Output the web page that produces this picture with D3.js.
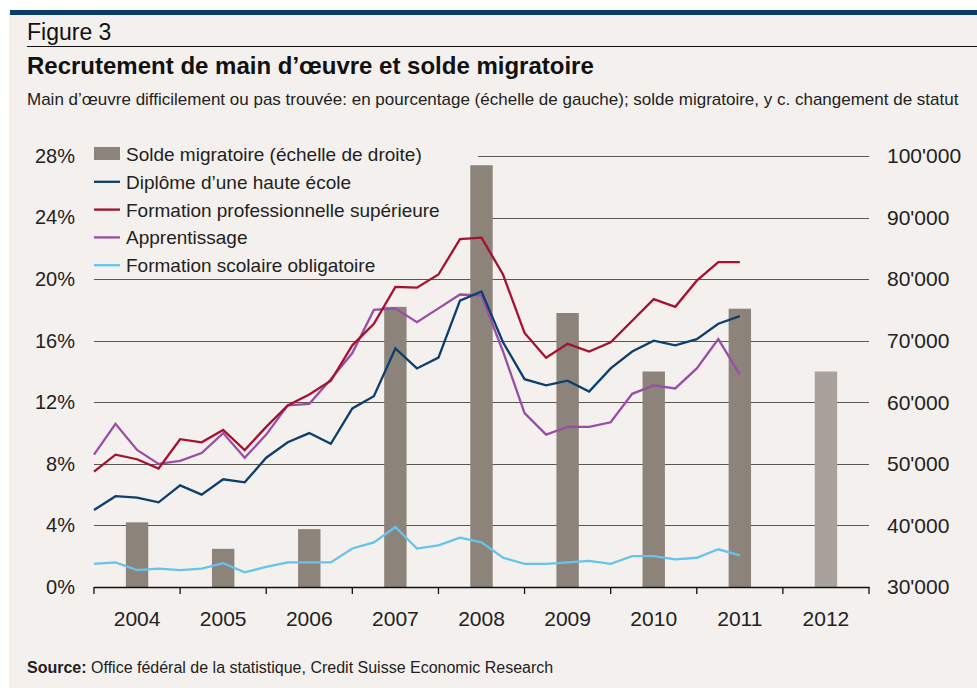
<!DOCTYPE html>
<html lang="fr">
<head>
<meta charset="utf-8">
<script src="https://cdnjs.cloudflare.com/ajax/libs/d3/7.8.5/d3.min.js"></script>
<style>
  html, body { margin: 0; padding: 0; background: #ffffff; }
  svg { display: block; font-family: "Liberation Sans", Arial, sans-serif; }
</style>
</head>
<body>
<div id="container"></div>
<script>
    var w = 977;
    var h = 688;

    // data
    var years = ["2004", "2005", "2006", "2007", "2008", "2009", "2010", "2011", "2012"];
    var solde = [40500, 36200, 39400, 75500, 98500, 74500, 65000, 75200, 65000];

    // quarterly series, 2004 Q1 .. 2011 Q3 (in %)
    var hauteEcole = [5.0, 5.9, 5.8, 5.5, 6.6, 6.0, 7.0, 6.8, 8.4, 9.4, 10.0, 9.3,
        11.6, 12.4, 15.5, 14.2, 14.9, 18.6, 19.2, 15.9, 13.5, 13.1, 13.4, 12.7,
        14.2, 15.3, 16.0, 15.7, 16.1, 17.1, 17.6];
    var profSup = [7.5, 8.6, 8.3, 7.7, 9.6, 9.4, 10.2, 8.9, 10.4, 11.8, 12.5, 13.4,
        15.7, 17.1, 19.5, 19.45, 20.3, 22.6, 22.7, 20.3, 16.5, 14.9, 15.8, 15.3,
        15.9, 17.3, 18.7, 18.2, 19.9, 21.1, 21.1];
    var apprentissage = [8.6, 10.6, 8.9, 8.0, 8.2, 8.7, 10.0, 8.4, 9.9, 11.8, 11.9, 13.5,
        15.2, 18.0, 18.1, 17.2, 18.1, 19.0, 18.95, 15.3, 11.3, 9.9, 10.4, 10.4,
        10.7, 12.55, 13.1, 12.9, 14.2, 16.1, 13.8];
    var scolaire = [1.5, 1.6, 1.1, 1.2, 1.1, 1.2, 1.55, 0.95, 1.3, 1.6, 1.6, 1.6,
        2.5, 2.9, 3.9, 2.5, 2.7, 3.2, 2.9, 1.9, 1.5, 1.5, 1.6, 1.7,
        1.5, 2.0, 2.0, 1.8, 1.9, 2.45, 2.05];

    var leftTicks = [0, 4, 8, 12, 16, 20, 24, 28];
    var rightTicks = [30000, 40000, 50000, 60000, 70000, 80000, 90000, 100000];

    var seriesNames = ["Diplôme d\u2019une haute école", "Formation professionnelle supérieure",
        "Apprentissage", "Formation scolaire obligatoire"];
    var barName = "Solde migratoire (échelle de droite)";

    var series = [
        { name: seriesNames[0], values: hauteEcole, color: "#0d3f6d" },
        { name: seriesNames[1], values: profSup, color: "#a5112f" },
        { name: seriesNames[2], values: apprentissage, color: "#9b4ea6" },
        { name: seriesNames[3], values: scolaire, color: "#66c4ec" }
    ];

    var svg = d3.select("#container")
                .append("svg")
                .attr("width", w)
                .attr("height", h);

    // page background and header
    svg.append("rect").attr("x", 9).attr("y", 10).attr("width", w - 9).attr("height", h - 10)
        .attr("fill", "#f3f0ed");
    svg.append("rect").attr("x", 10).attr("y", 10).attr("width", w - 10).attr("height", 5)
        .attr("fill", "#0b3b6c");

    svg.append("text").attr("x", 27).attr("y", 40)
        .attr("font-size", 23).attr("fill", "#111")
        .text("Figure 3");
    svg.append("line").attr("x1", 27).attr("x2", w).attr("y1", 46.5).attr("y2", 46.5)
        .attr("stroke", "#111").attr("stroke-width", 1);
    svg.append("text").attr("x", 27).attr("y", 74)
        .attr("font-size", 24).attr("font-weight", "bold").attr("fill", "#111")
        .text("Recrutement de main d\u2019œuvre et solde migratoire");
    svg.append("text").attr("x", 27).attr("y", 105)
        .attr("font-size", 17).attr("fill", "#222")
        .text("Main d\u2019œuvre difficilement ou pas trouvée: en pourcentage (échelle de gauche); solde migratoire, y c. changement de statut");

    // scales
    var x0 = 94, x1 = 869, yBottom = 587, yTop = 156;

    var xband = d3.scaleBand().domain(years).range([x0, x1]);
    var xq = d3.scaleLinear().domain([2004, 2013]).range([x0, x1]);
    var yl = d3.scaleLinear().domain([0, 28]).range([yBottom, yTop]);
    var yr = d3.scaleLinear().domain([30000, 100000]).range([yBottom, yTop]);

    // gridlines
    svg.append("g").selectAll("line")
        .data(leftTicks.slice(1))
        .enter()
        .append("line")
        .attr("x1", x0).attr("x2", x1)
        .attr("y1", function(d) { return Math.round(yl(d)) + 0.5; })
        .attr("y2", function(d) { return Math.round(yl(d)) + 0.5; })
        .attr("stroke", "#5a5652")
        .attr("stroke-width", 1.2);

    // legend background hides gridlines behind it
    svg.append("rect").attr("x", x0 - 2).attr("y", 140).attr("width", 386).attr("height", 134)
        .attr("fill", "#f3f0ed");

    // bars
    var bw = xband.bandwidth() * 0.26;
    svg.append("g").selectAll("rect")
        .data(solde)
        .enter()
        .append("rect")
        .attr("x", function(d, i) { return xband(years[i]) + xband.bandwidth() / 2 - bw / 2; })
        .attr("y", function(d) { return yr(d); })
        .attr("width", bw)
        .attr("height", function(d) { return yBottom - yr(d); })
        .attr("fill", function(d, i) { return i == years.length - 1 ? "#a9a19b" : "#8c837a"; });

    // lines
    var line = d3.line()
        .x(function(d, i) { return xq(2004 + i / 4); })
        .y(function(d) { return yl(d); });

    svg.append("g").selectAll("path")
        .data(series.slice().reverse())
        .enter()
        .append("path")
        .attr("d", function(d) { return line(d.values); })
        .attr("fill", "none")
        .attr("stroke", function(d) { return d.color; })
        .attr("stroke-width", 2.3)
        .attr("stroke-linejoin", "miter");

    // x axis
    var xAxis = d3.axisBottom(xband).tickSize(0).tickFormat(function(d) { return d; });
    var gx = svg.append("g").attr("transform", "translate(0," + yBottom + ")").call(xAxis);
    gx.select(".domain").remove();
    gx.selectAll("text").attr("dy", null).attr("y", 39)
        .attr("font-size", 21).attr("font-family", null).attr("fill", "#222");

    svg.append("line").attr("x1", x0).attr("x2", x1 + 0.5).attr("y1", yBottom + 0.5).attr("y2", yBottom + 0.5)
        .attr("stroke", "#111").attr("stroke-width", 1.3);
    svg.append("g").selectAll("line")
        .data(years.concat(["end"]))
        .enter()
        .append("line")
        .attr("x1", function(d) { return d == "end" ? x1 : xband(d); })
        .attr("x2", function(d) { return d == "end" ? x1 : xband(d); })
        .attr("y1", yBottom)
        .attr("y2", yBottom + 7)
        .attr("stroke", "#111").attr("stroke-width", 1.3);

    // left axis
    var gl = svg.append("g").attr("transform", "translate(" + x0 + ",0)")
        .call(d3.axisLeft(yl).tickValues(leftTicks).tickSize(0).tickPadding(19)
            .tickFormat(function(d) { return d + "%"; }));
    gl.select(".domain").remove();
    gl.selectAll("text").attr("font-size", 20).attr("font-family", null).attr("fill", "#222");

    // right axis
    var gr = svg.append("g").attr("transform", "translate(" + x1 + ",0)")
        .call(d3.axisRight(yr).tickValues(rightTicks).tickSize(0).tickPadding(18)
            .tickFormat(function(d) { return d3.format(",")(d).replace(/,/g, "'"); }));
    gr.select(".domain").remove();
    gr.selectAll("text").attr("font-size", 21).attr("font-family", null).attr("fill", "#222");

    // legend
    var leg = svg.append("g").attr("transform", "translate(" + x0 + ",154)");
    leg.append("rect").attr("x", 0).attr("y", -7).attr("width", 26).attr("height", 13)
        .attr("fill", "#8c837a");
    leg.append("text").attr("x", 32).attr("y", 7).attr("font-size", 19).attr("fill", "#222")
        .text(barName);
    var items = leg.selectAll("g.item")
        .data(series)
        .enter()
        .append("g")
        .attr("class", "item")
        .attr("transform", function(d, i) { return "translate(0," + (27.8 * (i + 1)) + ")"; });
    items.append("line").attr("x1", 0).attr("x2", 26).attr("y1", 0).attr("y2", 0)
        .attr("stroke", function(d) { return d.color; }).attr("stroke-width", 2.3);
    items.append("text").attr("x", 32).attr("y", 7).attr("font-size", 19).attr("fill", "#222")
        .text(function(d) { return d.name; });

    // source
    var src = svg.append("text").attr("x", 27).attr("y", 673).attr("font-size", 16).attr("fill", "#222");
    src.append("tspan").attr("font-weight", "bold").text("Source:");
    src.append("tspan").text(" Office fédéral de la statistique, Credit Suisse Economic Research");
</script>
</body>
</html>
